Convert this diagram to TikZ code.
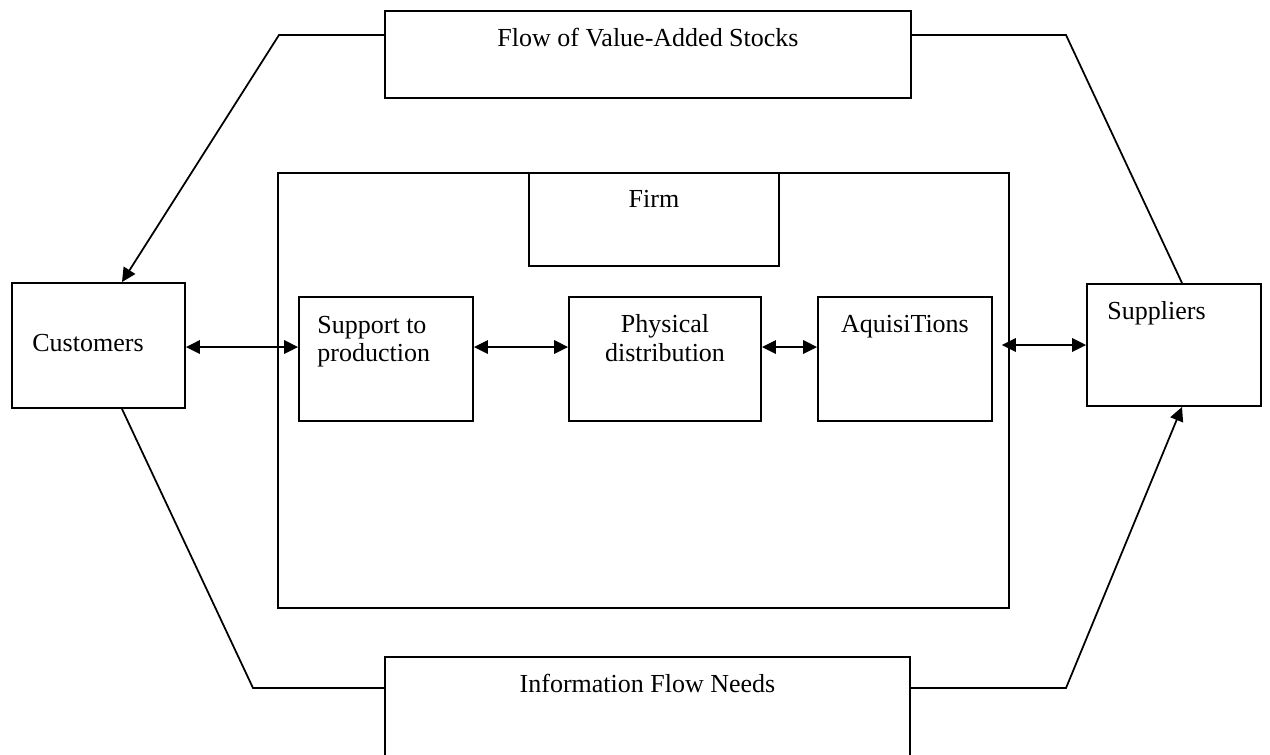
\documentclass[tikz,border=0pt]{standalone}
\usepackage{fontspec}
\setmainfont{Liberation Serif}
\usepackage{tikz}
\usetikzlibrary{positioning,arrows.meta}
\begin{document}
\begin{tikzpicture}[x=0.02cm,y=-0.02cm,
      font=\fontsize{14.8}{16}\selectfont,
      box/.style={draw=black,line width=1.1pt,inner sep=0pt},
      txt/.style={inner sep=0pt,anchor=base},
      ltxt/.style={inner sep=0pt,anchor=base west,align=left},
      link/.style={line width=1pt,black},
      arr/.style={link,-{Triangle[length=0.28cm,width=0.27cm]}},
      dbl/.style={link,{Triangle[length=0.28cm,width=0.27cm]}-{Triangle[length=0.28cm,width=0.27cm]}}]
    \useasboundingbox (0,0) rectangle (1270,754);
    \node[box,minimum width=10.52cm,minimum height=1.74cm] (flow)  at (648,54.5)  {};
    \node[box,minimum width=14.62cm,minimum height=8.7cm]  (firm)  at (643.5,390.5) {};
    \node[box,minimum width=5cm,minimum height=1.86cm]     (firmlbl) at (654,219.5) {};
    \node[box,minimum width=3.46cm,minimum height=2.5cm]   (cust)  at (98.5,345.5) {};
    \node[box,minimum width=3.48cm,minimum height=2.48cm]  (prod)  at (386,359)   {};
    \node[box,minimum width=3.84cm,minimum height=2.48cm]  (phys)  at (665,359)   {};
    \node[box,minimum width=3.48cm,minimum height=2.48cm]  (acq)   at (905,359)   {};
    \node[box,minimum width=3.48cm,minimum height=2.44cm]  (suppl) at (1174,345)  {};
    \node[box,minimum width=10.5cm,minimum height=2cm]     (info)  at (647.5,707) {};
    \node[txt]  (flowtxt)  at ([yshift=-0.72cm]flow.north)    {Flow of Value-Added Stocks};
    \node[txt]  (firmtxt)  at ([yshift=-0.7cm]firmlbl.north)  {Firm};
    \node[ltxt] (custtxt)  at ([xshift=0.42cm,yshift=-0.11cm]cust.west) {Customers};
    % two lines: base is the last line
    \node[ltxt] (prodtxt)  at ([xshift=0.38cm,yshift=-1.31cm]prod.north west) {Support to\\production};
    \node[txt,align=center] (phystxt) at ([yshift=-1.3cm]phys.north) {Physical\\distribution};
    \node[txt]  (acqtxt)   at ([yshift=-0.72cm]acq.north)     {AquisiTions};
    \node[ltxt] (suppltxt) at ([xshift=0.42cm,yshift=-0.72cm]suppl.north west) {Suppliers};
    \node[txt]  (infotxt)  at ([yshift=-0.72cm]info.north)    {Information Flow Needs};
    \coordinate (tlc) at (279,35);
    \coordinate (trc) at (1066,35);
    \coordinate (blc) at (253,688);
    \coordinate (brc) at (1066,688);
    \draw[arr]  (flow.west |- tlc) -- (tlc) -- ([xshift=0.47cm]cust.north);
    \draw[link] (flow.east |- trc) -- (trc) -- ([xshift=0.16cm]suppl.north);
    \draw[link] ([xshift=0.47cm]cust.south) -- (blc) -- (info.west |- blc);
    \draw[arr]  (info.east |- brc) -- (brc) -- ([xshift=0.16cm]suppl.south);
    \draw[dbl] ([yshift=-0.03cm]cust.east) -- ([yshift=-0.03cm]cust.east -| prod.west);
    \draw[dbl] ([yshift=0.24cm]prod.east) -- ([yshift=0.24cm]phys.west);
    \draw[dbl] ([yshift=0.24cm]phys.east) -- ([yshift=0.24cm]acq.west);
    \draw[dbl] ([xshift=-0.16cm]suppl.west -| firm.east) -- (suppl.west);
  \end{tikzpicture}
\end{document}
